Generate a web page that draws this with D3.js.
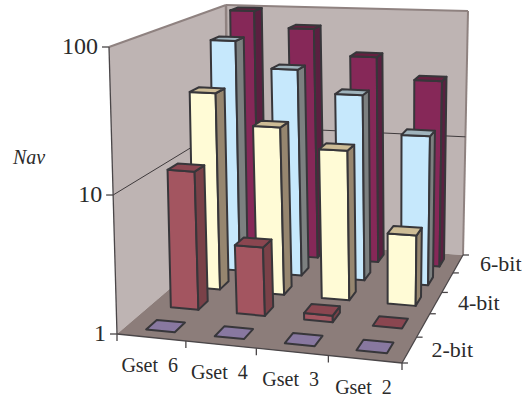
<!DOCTYPE html>
<html><head><meta charset="utf-8">
<script src="https://cdn.jsdelivr.net/npm/d3@7"></script>
<style>html,body{margin:0;background:#fff}svg{display:block}text{font-family:"Liberation Serif",serif;fill:#2b2b2b}</style>
</head><body><svg id="c" width="526" height="398"></svg>
<script>
// data
const categories = ["Gset 6","Gset 4","Gset 3","Gset 2"];
const seriesNames = ["2-bit","3-bit","4-bit","5-bit","6-bit"];
const depthLabels = ["2-bit","","4-bit","","6-bit"];
const v2bit = [1,1,1,1];
const v3bit = [11,3.3,1.12,1];
const v4bit = [33,19.5,14,3.5];
const v5bit = [68,43,29,15];
const v6bit = [100,75,47,32];
const seriesValues = [v2bit,v3bit,v4bit,v5bit,v6bit];
const valueTicks = [1,10,100];
const fills = [
 {f:"#8878a0",s:"#6b5e80",t:"#8878a0"},
 {f:"#a35560",s:"#7a4148",t:"#8a4650"},
 {f:"#fffbd6",s:"#96866f",t:"#cdbc96"},
 {f:"#c6e8fc",s:"#7c8080",t:"#9fb3bc"},
 {f:"#862858",s:"#5a2040",t:"#662040"}];

// projection of the 3D box
const floorC={fl:[117,334],fr:[402,363],br:[463,255],bl:[228,239]};
const topC={fl:[109,47],fr:[405.6,64],br:[468,11],bl:[226,5]};
function homography(c){
  const [x0,y0]=c.fl,[x1,y1]=c.fr,[x2,y2]=c.br,[x3,y3]=c.bl;
  const dx1=x1-x2,dx2=x3-x2,sx=x0-x1+x2-x3,dy1=y1-y2,dy2=y3-y2,sy=y0-y1+y2-y3;
  const d=dx1*dy2-dx2*dy1,g=(sx*dy2-dx2*sy)/d,h=(dx1*sy-sx*dy1)/d;
  const a=x1-x0+g*x1,b=x3-x0+h*x3,e=y1-y0+g*y1,f=y3-y0+h*y3;
  return (u,v)=>{const w=g*u+h*v+1;return [(a*u+b*v+x0)/w,(e*u+f*v+y0)/w];};
}
const H0=homography(floorC),H1=homography(topC);
const uScale=d3.scaleBand().domain(categories).range([0,1]);
const vScale=d3.scaleBand().domain(seriesNames).range([0,1]);
const tScale=d3.scaleLog().domain([1,100]).range([0,1]);
const W=0.939,warp=0.045;
function P(u0,v,val){
  const u=u0+warp*u0*(1-u0);
  const t=tScale(val),f=t*W/(1-t+t*W);
  const a=H0(u,v),b=H1(u,v);
  return [a[0]+(b[0]-a[0])*f,a[1]+(b[1]-a[1])*f];
}
const svg=d3.select("#c");
const line=d3.line();
const poly=(g,pts,fill,stroke,sw)=>g.append("path").attr("d",line(pts)+"Z").attr("fill",fill)
  .attr("stroke",stroke||"none").attr("stroke-width",sw||0).attr("stroke-linejoin","round");
const seg=(g,a,b,c,w)=>g.append("line").attr("x1",a[0]).attr("y1",a[1]).attr("x2",b[0]).attr("y2",b[1]).attr("stroke",c).attr("stroke-width",w);

// walls and floor
const wallCol="#beb4b3",edge="#8f8280",axisCol="#4a4648";
poly(svg,[P(0,0,1),P(0,1,1),P(0,1,100),P(0,0,100)],wallCol);
poly(svg,[P(0,1,1),P(1,1,1),P(1,1,100),P(0,1,100)],wallCol);
poly(svg,[P(0,0,1),P(1,0,1),P(1,1,1),P(0,1,1)],"#8c7d7a");
seg(svg,P(0,0,100),P(0,1,100),edge,2);
seg(svg,P(0,1,100),P(1,1,100),edge,2);
seg(svg,P(1,1,100),P(1,1,1),edge,2);
seg(svg,P(0,1,100),P(0,1,1),edge,2.5);
// gridline at 10
seg(svg,P(0,0,10),P(0,1,10),"#3f3a3c",1);
seg(svg,P(0,1,10),P(1,1,10),"#3f3a3c",1);
// axes
seg(svg,P(0,0,100),P(0,0,1),axisCol,1.3);
seg(svg,P(0,0,1),P(1,0,1),axisCol,1.3);
seg(svg,P(1,0,1),P(1,1,1),axisCol,1.3);

valueTicks.forEach(d=>{
  const p=P(0,0,d);
  seg(svg,[p[0]-7,p[1]],p,axisCol,1.3);
  svg.append("text").attr("x",p[0]-11).attr("y",p[1]+7).attr("text-anchor","end").attr("font-size",24).text(d);
});
const uEdges=[0,...categories.map(c=>uScale(c)+uScale.bandwidth())];
uEdges.forEach(u=>{const p=P(u,0,1);seg(svg,p,[p[0],p[1]+7],axisCol,1.3);});
const vEdges=[0,...seriesNames.map(c=>vScale(c)+vScale.bandwidth())];
vEdges.forEach(v=>{const p=P(1,v,1);seg(svg,p,[p[0]+6,p[1]],axisCol,1.3);});
categories.forEach(c=>{
  const p=P(uScale(c)+uScale.bandwidth()/2,0,1);
  svg.append("text").attr("x",p[0]-1.5).attr("y",p[1]+34.5).attr("text-anchor","middle").attr("font-size",20)
    .attr("xml:space","preserve").style("white-space","pre").text(c.replace(" ","  "));
});
seriesNames.forEach((s,i)=>{
  if(!depthLabels[i])return;
  const p=P(1,vScale(s)+vScale.bandwidth()/2,1);
  svg.append("text").attr("x",p[0]+22).attr("y",p[1]+7).attr("font-size",22).text(depthLabels[i]);
});
svg.append("text").attr("x",13).attr("y",164).attr("font-size",20).attr("font-style","italic").text("Nav");

// bars, back row first
const ink="#37363a",sw=2,frac=0.42,shiftU=0.025;
const rows=d3.range(seriesNames.length).reverse();
rows.forEach(r=>{
  const vA=vScale(seriesNames[r])+vScale.bandwidth()*(1-frac)/2,vB=vA+vScale.bandwidth()*frac;
  const g=svg.append("g");
  categories.forEach((c,i)=>{
    const val=seriesValues[r][i],col=fills[r];
    const uA=uScale(c)+uScale.bandwidth()*((1-frac)/2+shiftU),uB=uA+uScale.bandwidth()*frac;
    if(val>1){
      poly(g,[P(uA,vA,1),P(uB,vA,1),P(uB,vA,val),P(uA,vA,val)],col.f,ink,sw);
      poly(g,[P(uB,vA,1),P(uB,vB,1),P(uB,vB,val),P(uB,vA,val)],col.s,ink,sw);
    }
    poly(g,[P(uA,vA,val),P(uB,vA,val),P(uB,vB,val),P(uA,vB,val)],col.t,ink,sw);
  });
});
</script></body></html>
